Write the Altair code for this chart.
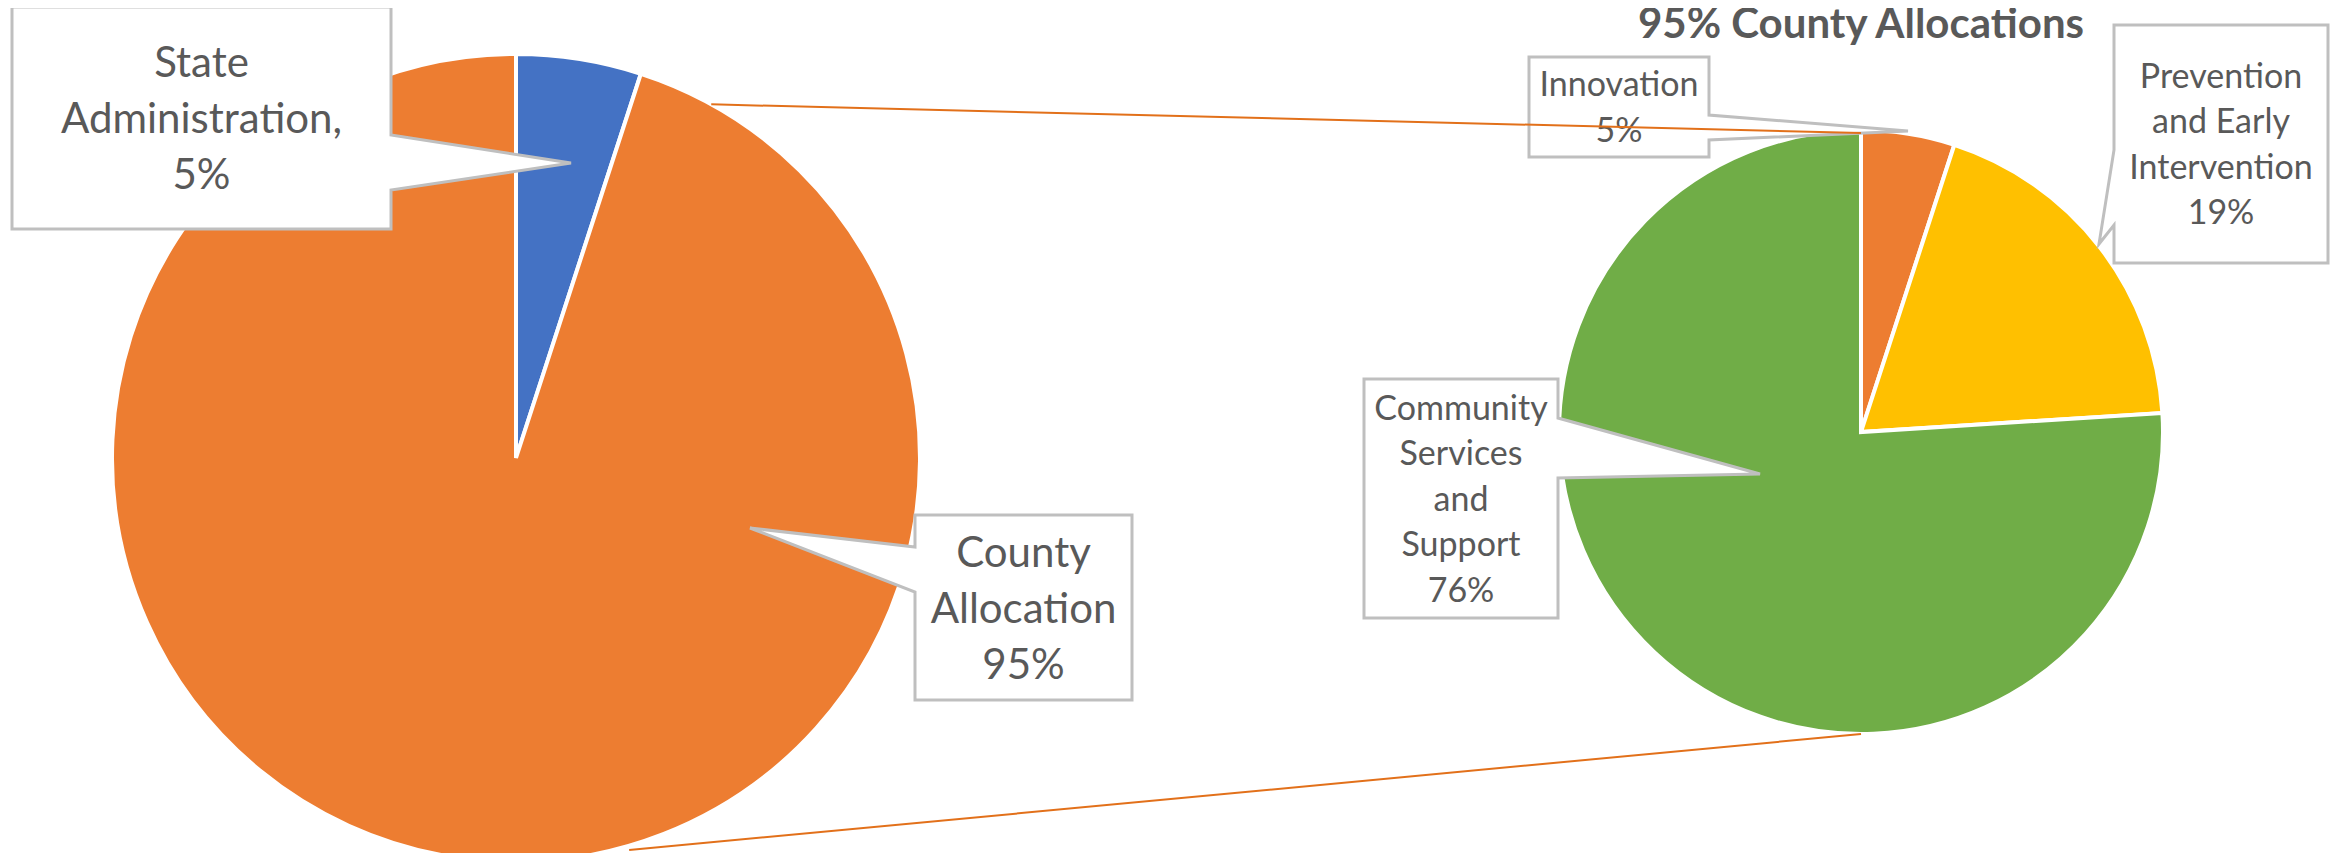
import math
import altair as alt
import pandas as pd

# ---------------- data ----------------
left_labels = ["State Administration", "County Allocation"]
left_values = [5, 95]
left_colors = ["#4472C4", "#ED7D31"]
left_label_lines = [["State", "Administration,"], ["County", "Allocation"]]

right_labels = ["Innovation", "Prevention and Early Intervention", "Community Services and Support"]
right_values = [5, 19, 76]
right_colors = ["#ED7D31", "#FFC000", "#70AD47"]
right_label_lines = [["Innovation"], ["Prevention", "and Early", "Intervention"],
                     ["Community", "Services", "and", "Support"]]

title_text = "95% County Allocations"

# ---------------- layout (page pixel coordinates) ----------------
W, H = 2322, 845
OFF = 8
LEFT_PIE = dict(cx=516, cy=458, r=404)
RIGHT_PIE = dict(cx=1861, cy=432, r=302)
# callout boxes: x0, y0, x1, y1, pointer side, attach1, attach2, tip x, tip y
left_boxes = [(12, 7, 391, 229, "right", 135, 190, 571, 163),
              (915, 515, 1132, 700, "left", 547, 592, 750, 528)]
right_boxes = [(1529, 57, 1709, 157, "right", 115, 140, 1908, 131),
               (2114, 25, 2328, 263, "left", 150, 225, 2099, 244),
               (1364, 379, 1558, 618, "right", 418, 478, 1760, 474)]
TEXT_COLOR = "#595959"
BORDER = "#BFBFBF"
FONT = "Lato"
LEFT_FS, LEFT_LH = 42, 56
RIGHT_FS, RIGHT_LH = 34, 45.5

X = alt.X("x:Q", scale=alt.Scale(domain=[OFF, OFF + W], nice=False, zero=False), axis=None)
Y = alt.Y("y:Q", scale=alt.Scale(domain=[OFF + H, OFF], nice=False, zero=False), axis=None)


def pie_layer(labels, values, colors, geo):
    df = pd.DataFrame({"label": labels, "value": values, "color": colors,
                       "idx": list(range(len(labels)))})
    return alt.Chart(df).mark_arc(radius=geo["r"], stroke="white", strokeWidth=4).encode(
        theta=alt.Theta("value:Q", stack=True),
        color=alt.Color("color:N", scale=None),
        order=alt.Order("idx:Q"),
        x=alt.value(geo["cx"] - OFF),
        y=alt.value(geo["cy"] - OFF),
    )


def callout_path(b):
    x0, y0, x1, y1, side, a1, a2, tx, ty = b
    if side == "right":
        pts = [(x0, y0), (x1, y0), (x1, a1), (tx, ty), (x1, a2), (x1, y1), (x0, y1)]
    else:
        pts = [(x0, y0), (x1, y0), (x1, y1), (x0, y1), (x0, a2), (tx, ty), (x0, a1)]
    cx, cy = (x0 + x1) / 2, (y0 + y1) / 2
    d = "M" + " L".join(f"{px - cx:.1f},{py - cy:.1f}" for px, py in pts) + " Z"
    return cx, cy, d


rows = []
for boxes in (left_boxes, right_boxes):
    for b in boxes:
        cx, cy, d = callout_path(b)
        rows.append({"x": cx, "y": cy, "path": d})
callout_df = pd.DataFrame(rows)

callouts = alt.Chart(callout_df).mark_point(
    size=4, filled=True, fill="white", stroke=BORDER, strokeWidth=3,
    opacity=1, fillOpacity=1, strokeOpacity=1
).encode(x=X, y=Y, shape=alt.Shape("path:N", scale=None))


def text_df(boxes, lines, values, lh):
    out = []
    for b, ln, v in zip(boxes, lines, values):
        x0, y0, x1, y1 = b[:4]
        all_lines = ln + [f"{v}%"]
        n = len(all_lines)
        out.append({"x": (x0 + x1) / 2,
                    "y": (y0 + y1) / 2 + 2 - (n - 1) * lh / 2,
                    "text": "\n".join(all_lines)})
    return pd.DataFrame(out)


left_text = alt.Chart(text_df(left_boxes, left_label_lines, left_values, LEFT_LH)).mark_text(
    font=FONT, fontSize=LEFT_FS, color=TEXT_COLOR, align="center", baseline="middle",
    lineBreak="\n", lineHeight=LEFT_LH
).encode(x=X, y=Y, text="text:N")

right_text = alt.Chart(text_df(right_boxes, right_label_lines, right_values, RIGHT_LH)).mark_text(
    font=FONT, fontSize=RIGHT_FS, color=TEXT_COLOR, align="center", baseline="middle",
    lineBreak="\n", lineHeight=RIGHT_LH
).encode(x=X, y=Y, text="text:N")

title = alt.Chart(pd.DataFrame({"x": [RIGHT_PIE["cx"]], "y": [38], "text": [title_text]})).mark_text(
    font=FONT, fontSize=42, fontWeight="bold", color=TEXT_COLOR, align="center",
    baseline="alphabetic"
).encode(x=X, y=Y, text="text:N")


# connector lines from the left pie to the right pie
def on_circle(geo, deg, k=1.0):
    a = math.radians(deg)
    return geo["cx"] + geo["r"] * k * math.sin(a), geo["cy"] - geo["r"] * k * math.cos(a)

p1 = on_circle(LEFT_PIE, 28.9, 1.0)
p2 = on_circle(LEFT_PIE, 163.9, 1.01)
q1 = on_circle(RIGHT_PIE, 0, 0.99)
q2 = on_circle(RIGHT_PIE, 180, 1.0)
lines_df = pd.DataFrame({"x": [p1[0], p2[0]], "y": [p1[1], p2[1]],
                         "x2": [q1[0], q2[0]], "y2": [q1[1], q2[1]]})
connectors = alt.Chart(lines_df).mark_rule(color="#E2701A", strokeWidth=2).encode(
    x=X, y=Y, x2="x2:Q", y2="y2:Q")

chart = alt.layer(
    pie_layer(left_labels, left_values, left_colors, LEFT_PIE),
    pie_layer(right_labels, right_values, right_colors, RIGHT_PIE),
    callouts, left_text, right_text, connectors, title
).properties(width=W, height=H, padding=0, autosize="none",
             background="white").configure_view(stroke=None)

chart.save("out.html", embed_options={"renderer": "svg", "actions": False})
